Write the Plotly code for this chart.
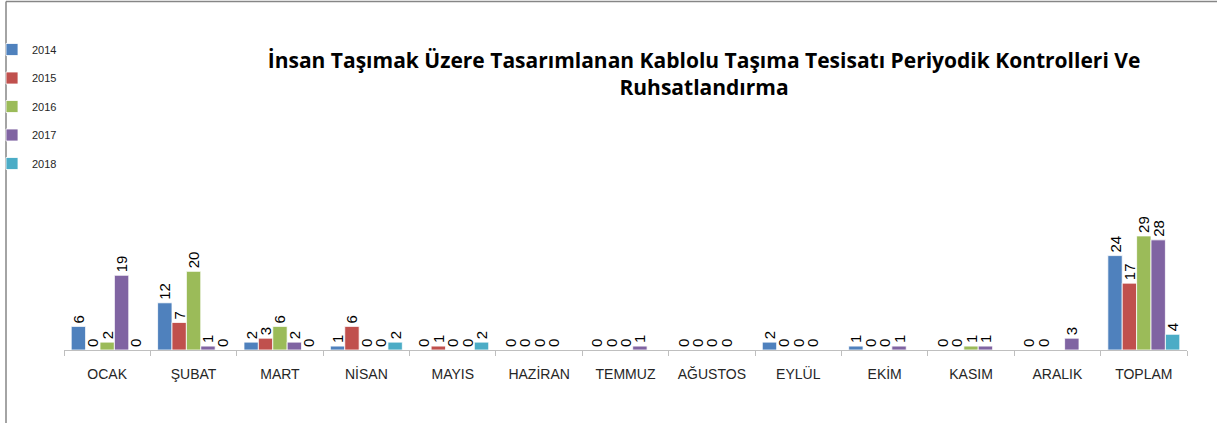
import plotly.graph_objects as go

# months + total
categories = ["OCAK", "ŞUBAT", "MART", "NİSAN", "MAYIS", "HAZİRAN", "TEMMUZ",
              "AĞUSTOS", "EYLÜL", "EKİM", "KASIM", "ARALIK", "TOPLAM"]

y2014 = [6, 12, 2, 1, 0, 0, 0, 0, 2, 1, 0, 0, 24]
y2015 = [0, 7, 3, 6, 1, 0, 0, 0, 0, 0, 0, 0, 17]
y2016 = [2, 20, 6, 0, 0, 0, 0, 0, 0, 0, 1, None, 29]
y2017 = [19, 1, 2, 0, 0, 0, 1, 0, 0, 1, 1, 3, 28]
y2018 = [0, 0, 0, 2, 2, None, None, None, None, None, None, None, 4]

series = [("2014", y2014, "#4F81BD"), ("2015", y2015, "#C0504D"),
          ("2016", y2016, "#9BBB59"), ("2017", y2017, "#8064A2"),
          ("2018", y2018, "#4BACC6")]

title = ("İnsan Taşımak Üzere Tasarımlanan Kablolu Taşıma Tesisatı Periyodik Kontrolleri Ve"
         "<br>Ruhsatlandırma")

W, H = 1217, 423
L, R, T, B = 64, 30, 114, 73

fig = go.Figure()
for name, vals, color in series:
    fig.add_trace(go.Bar(
        x=categories, y=vals, name=name, legendgroup=name,
        marker=dict(color=color, line=dict(color="white", width=0.8)),
        text=[None if v is None else str(v) for v in vals],
        textposition="outside", textangle=-90, constraintext="none",
        cliponaxis=False,
        textfont=dict(family="Liberation Sans", size=15, color="#000000"),
    ))

# pixel -> paper helpers (frame + legend placement)
pw, ph = W - L - R, H - T - B
def px(x):
    return (x - L) / pw
def py(y):
    return (H - B - y) / ph

fig.add_shape(type="line", xref="paper", yref="paper",
              x0=px(6), x1=px(W + 5), y0=py(1.5), y1=py(1.5),
              line=dict(color="#868686", width=1.5))
fig.add_shape(type="line", xref="paper", yref="paper",
              x0=px(6), x1=px(6), y0=py(1.5), y1=py(H + 5),
              line=dict(color="#868686", width=1.5))

fig.update_layout(
    width=W, height=H,
    margin=dict(l=L, r=R, t=T, b=B, autoexpand=False),
    paper_bgcolor="white", plot_bgcolor="white",
    barmode="group", bargap=0.167, bargroupgap=0,
    title=dict(text=title, x=704 / W, xanchor="center", xref="container",
               y=1 - 68 / H, yanchor="middle", yref="container",
               font=dict(family="Open Sans", size=21, color="#000000", weight="bold")),
    legend=dict(xref="paper", yref="paper", x=px(-8), y=py(35),
                xanchor="left", yanchor="top", tracegroupgap=9.5,
                bgcolor="rgba(0,0,0,0)",
                font=dict(family="Liberation Sans", size=11, color="#262626")),
    showlegend=True,
    xaxis=dict(showline=True, linecolor="#BFBFBF", linewidth=1,
               ticks="outside", tickson="boundaries", ticklen=5, tickcolor="#BFBFBF",
               ticklabelstandoff=11,
               tickfont=dict(family="Liberation Sans", size=14, color="#262626")),
    yaxis=dict(range=[0, 60], visible=False, showgrid=False),
)

fig.write_html("out.html", config={"displayModeBar": False},
               post_script="document.body.style.margin='0';")
